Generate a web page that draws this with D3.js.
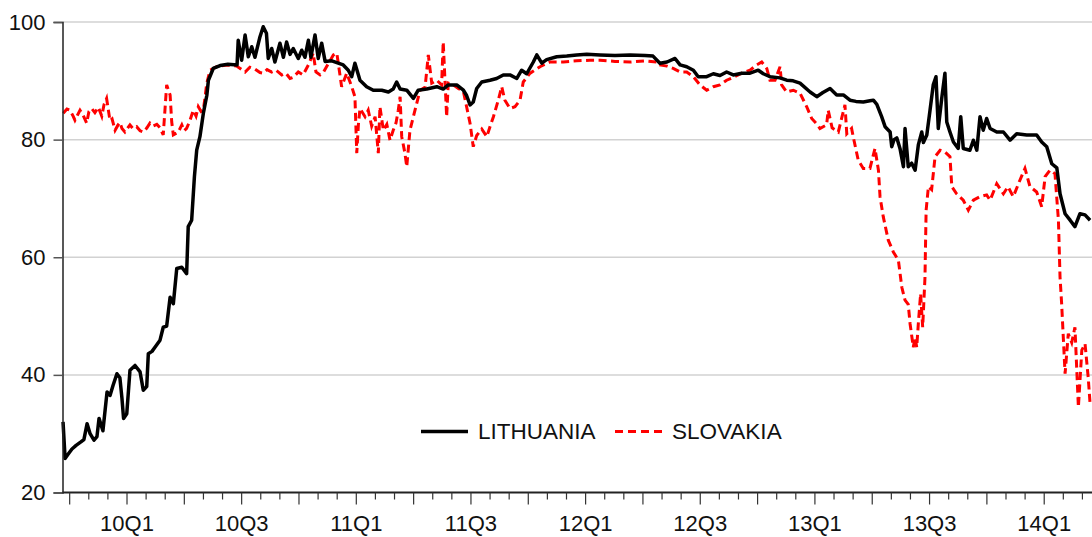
<!DOCTYPE html>
<html>
<head>
<meta charset="utf-8">
<script src="https://cdn.jsdelivr.net/npm/d3@7"></script>
<style>
  body { margin: 0; background: #fff; }
  svg { display: block; font-family: "Liberation Sans", Arial, sans-serif; }
</style>
</head>
<body>
<div id="chart"></div>
<script>
// DATA (time in decimal years)
const ltTime = [
  2009.721, 2009.730, 2009.743, 2009.760, 2009.778, 2009.799, 2009.812, 2009.826, 2009.839, 2009.856,
  2009.869, 2009.878, 2009.895, 2009.913, 2009.926, 2009.939, 2009.956, 2009.969, 2009.978, 2009.985,
  2009.999, 2010.013, 2010.035, 2010.057, 2010.071, 2010.086, 2010.093, 2010.109, 2010.122, 2010.144,
  2010.158, 2010.173, 2010.188, 2010.202, 2010.217, 2010.239, 2010.260, 2010.267, 2010.282, 2010.294,
  2010.304, 2010.318, 2010.333, 2010.348, 2010.355, 2010.376, 2010.406, 2010.440, 2010.480, 2010.485,
  2010.500, 2010.515, 2010.529, 2010.544, 2010.558, 2010.580, 2010.594, 2010.608, 2010.616, 2010.631,
  2010.645, 2010.667, 2010.682, 2010.696, 2010.711, 2010.725, 2010.747, 2010.762, 2010.776, 2010.791,
  2010.802, 2010.820, 2010.834, 2010.849, 2010.864, 2010.893, 2010.915, 2010.943, 2010.965, 2010.980,
  2010.994, 2011.016, 2011.045, 2011.074, 2011.111, 2011.140, 2011.161, 2011.176, 2011.191, 2011.220,
  2011.249, 2011.270, 2011.307, 2011.351, 2011.379, 2011.401, 2011.438, 2011.467, 2011.481, 2011.496,
  2011.510, 2011.525, 2011.547, 2011.583, 2011.612, 2011.641, 2011.670, 2011.700, 2011.721, 2011.743,
  2011.772, 2011.787, 2011.809, 2011.830, 2011.874, 2011.918, 2011.961, 2012.005, 2012.063, 2012.128,
  2012.194, 2012.259, 2012.294, 2012.324, 2012.355, 2012.390, 2012.412, 2012.441, 2012.470, 2012.491,
  2012.528, 2012.557, 2012.586, 2012.615, 2012.644, 2012.681, 2012.717, 2012.753, 2012.775, 2012.804,
  2012.848, 2012.877, 2012.905, 2012.935, 2012.979, 2013.008, 2013.035, 2013.066, 2013.095, 2013.124,
  2013.153, 2013.179, 2013.211, 2013.240, 2013.255, 2013.270, 2013.291, 2013.306, 2013.328, 2013.335,
  2013.345, 2013.357, 2013.371, 2013.386, 2013.393, 2013.407, 2013.422, 2013.437, 2013.451, 2013.466,
  2013.473, 2013.488, 2013.502, 2013.516, 2013.528, 2013.538, 2013.553, 2013.567, 2013.575, 2013.589,
  2013.604, 2013.625, 2013.636, 2013.647, 2013.676, 2013.691, 2013.706, 2013.720, 2013.734, 2013.749,
  2013.764, 2013.793, 2013.822, 2013.851, 2013.880, 2013.924, 2013.967, 2013.989, 2014.011, 2014.033,
  2014.055, 2014.069, 2014.091, 2014.113, 2014.134, 2014.156, 2014.178, 2014.200
];
const ltValue = [
  32.0, 25.8, 26.5, 27.4, 28.0, 28.6, 29.0, 31.7, 30.0, 28.9,
  29.5, 32.6, 30.5, 37.1, 36.5, 38.2, 40.2, 39.5, 36.0, 32.6,
  33.4, 40.8, 41.6, 40.5, 37.4, 38.0, 43.6, 44.0, 44.7, 45.9,
  48.1, 48.3, 53.2, 52.1, 58.1, 58.3, 57.2, 65.2, 66.3, 73.7,
  78.2, 80.5, 84.5, 87.5, 90.1, 92.1, 92.6, 92.8, 92.7, 96.9,
  93.5, 97.8, 94.1, 95.8, 94.0, 97.5, 99.2, 98.1, 93.8, 95.5,
  93.2, 96.4, 94.0, 96.6, 94.5, 95.5, 93.8, 95.2, 94.0, 96.9,
  94.0, 97.8, 93.8, 96.4, 93.3, 93.4, 93.1, 92.7, 91.8, 90.7,
  93.0, 90.1, 89.0, 88.4, 88.4, 88.1, 88.6, 89.8, 88.6, 88.4,
  87.0, 88.4, 88.6, 89.0, 88.6, 89.3, 89.3, 88.4, 87.5, 85.9,
  86.4, 88.7, 89.8, 90.1, 90.4, 91.0, 91.0, 90.4, 91.8, 91.2,
  93.2, 94.4, 93.0, 93.6, 94.1, 94.2, 94.4, 94.5, 94.4, 94.3,
  94.4, 94.3, 94.2, 93.0, 93.2, 93.8, 92.7, 92.4, 91.8, 90.7,
  90.7, 91.2, 90.9, 91.5, 91.0, 91.3, 91.3, 91.8, 91.2, 90.7,
  90.5, 90.1, 90.0, 89.6, 88.1, 87.3, 88.0, 88.7, 87.6, 87.6,
  86.7, 86.5, 86.4, 86.6, 86.7, 86.0, 83.9, 82.2, 81.3, 78.8,
  80.0, 80.3, 78.5, 75.4, 81.9, 75.4, 76.0, 74.8, 79.1, 81.3,
  79.5, 80.8, 85.0, 89.3, 90.7, 81.9, 87.0, 91.3, 83.0, 81.3,
  79.6, 78.5, 83.9, 78.5, 78.2, 79.9, 78.2, 83.9, 81.6, 83.6,
  81.9, 81.3, 81.3, 79.9, 81.0, 80.8, 80.8, 79.6, 78.8, 75.9,
  75.2, 70.8, 67.4, 66.3, 65.2, 67.4, 67.2, 66.3
];

const skTime = [
  2009.722, 2009.738, 2009.751, 2009.765, 2009.773, 2009.795, 2009.808, 2009.824, 2009.834, 2009.846,
  2009.860, 2009.875, 2009.890, 2009.900, 2009.911, 2009.926, 2009.935, 2009.948, 2009.961, 2009.969,
  2009.978, 2009.991, 2010.013, 2010.026, 2010.042, 2010.057, 2010.071, 2010.087, 2010.100, 2010.113,
  2010.130, 2010.144, 2010.158, 2010.173, 2010.188, 2010.195, 2010.202, 2010.224, 2010.239, 2010.249,
  2010.260, 2010.275, 2010.289, 2010.301, 2010.311, 2010.323, 2010.333, 2010.348, 2010.362, 2010.391,
  2010.435, 2010.478, 2010.515, 2010.536, 2010.558, 2010.580, 2010.594, 2010.611, 2010.631, 2010.650,
  2010.675, 2010.693, 2010.711, 2010.725, 2010.747, 2010.768, 2010.791, 2010.812, 2010.824, 2010.842,
  2010.856, 2010.872, 2010.900, 2010.915, 2010.925, 2010.936, 2010.958, 2010.980, 2010.994, 2011.002,
  2011.009, 2011.016, 2011.038, 2011.052, 2011.067, 2011.082, 2011.096, 2011.103, 2011.118, 2011.133,
  2011.147, 2011.161, 2011.173, 2011.183, 2011.191, 2011.198, 2011.212, 2011.220, 2011.234, 2011.256,
  2011.278, 2011.300, 2011.314, 2011.329, 2011.351, 2011.372, 2011.379, 2011.394, 2011.401, 2011.423,
  2011.445, 2011.467, 2011.481, 2011.496, 2011.510, 2011.525, 2011.547, 2011.569, 2011.583, 2011.598,
  2011.619, 2011.634, 2011.648, 2011.670, 2011.692, 2011.714, 2011.728, 2011.758, 2011.801, 2011.845,
  2011.903, 2011.961, 2012.019, 2012.063, 2012.128, 2012.194, 2012.259, 2012.310, 2012.324, 2012.355,
  2012.382, 2012.412, 2012.441, 2012.470, 2012.499, 2012.528, 2012.557, 2012.586, 2012.615, 2012.644,
  2012.681, 2012.717, 2012.746, 2012.768, 2012.790, 2012.804, 2012.826, 2012.848, 2012.855, 2012.877,
  2012.906, 2012.935, 2012.964, 2012.986, 2013.005, 2013.022, 2013.051, 2013.058, 2013.075, 2013.102,
  2013.131, 2013.139, 2013.160, 2013.167, 2013.189, 2013.211, 2013.240, 2013.262, 2013.277, 2013.284,
  2013.298, 2013.320, 2013.342, 2013.364, 2013.379, 2013.393, 2013.407, 2013.415, 2013.429, 2013.437,
  2013.444, 2013.451, 2013.461, 2013.470, 2013.480, 2013.485, 2013.495, 2013.509, 2013.524, 2013.546,
  2013.567, 2013.589, 2013.597, 2013.618, 2013.647, 2013.669, 2013.691, 2013.720, 2013.749, 2013.764,
  2013.793, 2013.822, 2013.842, 2013.865, 2013.894, 2013.916, 2013.938, 2013.967, 2013.989, 2014.004,
  2014.025, 2014.047, 2014.062, 2014.069, 2014.076, 2014.091, 2014.105, 2014.120, 2014.134, 2014.149,
  2014.164, 2014.178, 2014.192, 2014.200
];
const skValue = [
  84.5, 85.2, 85.0, 84.0, 83.3, 85.0, 84.2, 82.8, 84.8, 85.3,
  84.6, 85.5, 84.0, 86.0, 87.0, 83.2, 83.5, 81.6, 82.5, 82.9,
  81.9, 81.3, 82.5, 81.9, 82.2, 81.5, 81.3, 82.0, 82.8, 82.3,
  82.6, 82.0, 80.8, 89.3, 87.6, 83.0, 80.8, 81.3, 82.5, 81.5,
  81.9, 83.3, 85.0, 84.0, 85.6, 84.8, 85.0, 89.6, 91.8, 92.4,
  92.7, 92.5, 91.5, 92.3, 92.0, 91.4, 91.3, 91.9, 91.5, 91.8,
  91.0, 91.3, 90.4, 90.6, 91.5, 91.0, 92.7, 94.7, 91.5, 91.0,
  91.4, 92.5, 94.4, 94.7, 92.0, 89.0, 91.3, 89.0, 87.3, 77.7,
  82.5, 85.3, 83.9, 85.0, 82.3, 83.9, 77.7, 85.6, 81.6, 82.6,
  79.9, 81.6, 82.8, 85.0, 87.3, 80.5, 77.7, 75.4, 81.6, 85.0,
  88.4, 88.9, 94.4, 89.6, 90.1, 89.3, 96.6, 83.9, 89.6, 89.3,
  88.7, 88.2, 85.6, 82.8, 78.8, 80.7, 81.8, 80.5, 82.2, 83.9,
  86.7, 89.0, 86.7, 85.3, 85.6, 86.7, 89.8, 91.3, 92.4, 93.2,
  93.2, 93.4, 93.5, 93.5, 93.3, 93.2, 93.4, 93.2, 92.7, 92.5,
  92.1, 91.5, 91.5, 90.7, 89.3, 88.4, 89.0, 89.3, 90.1, 90.6,
  91.3, 91.8, 92.7, 93.2, 92.1, 90.1, 90.1, 92.4, 89.3, 88.1,
  88.4, 87.9, 85.6, 83.6, 82.8, 81.9, 82.5, 85.0, 82.0, 81.3,
  85.9, 81.0, 81.9, 80.5, 76.5, 75.1, 75.1, 78.5, 74.8, 70.3,
  66.9, 62.9, 60.9, 59.5, 54.9, 52.7, 52.0, 48.7, 44.7, 46.4,
  44.7, 48.7, 53.8, 48.1, 56.6, 68.0, 72.0, 71.5, 77.1, 78.2,
  77.9, 77.1, 72.0, 70.8, 69.7, 68.0, 69.7, 70.3, 70.6, 69.7,
  72.5, 70.8, 72.0, 70.3, 73.1, 75.1, 72.0, 71.1, 68.6, 73.7,
  74.8, 74.2, 66.3, 56.6, 52.1, 40.2, 47.0, 45.5, 48.1, 34.5,
  44.2, 45.3, 39.5, 35.1
];

const seriesNames = ["LITHUANIA", "SLOVAKIA"];
const yTicks = [20, 40, 60, 80, 100];
const xLabelTicks = [2010, 2010.5, 2011, 2011.5, 2012, 2012.5, 2013, 2013.5, 2014];
const xLabels = ["10Q1", "10Q3", "11Q1", "11Q3", "12Q1", "12Q3", "13Q1", "13Q3", "14Q1"];

// SIZES
const w = 1092;
const h = 537;
const plotLeft = 62.5;
const plotTop = 22;
const plotBottom = 492.5;

const svg = d3
  .select("#chart")
  .append("svg")
  .attr("width", w)
  .attr("height", h);

const x = d3.scaleLinear().domain([2009.7187, 2014.2084]).range([plotLeft, w]);
const y = d3.scaleLinear().domain([20, 100]).range([plotBottom, plotTop]);

// GRID
svg
  .append("g")
  .selectAll("line")
  .data(yTicks.filter((d) => d > 20))
  .enter()
  .append("line")
  .attr("x1", plotLeft)
  .attr("x2", w)
  .attr("y1", (d) => y(d))
  .attr("y2", (d) => y(d))
  .attr("stroke", "#d2d2d2")
  .attr("stroke-width", 1.5);

// LINES
const line = d3
  .line()
  .x((d) => x(d[0]))
  .y((d) => y(d[1]));

svg
  .append("path")
  .datum(d3.zip(skTime, skValue))
  .attr("d", line)
  .attr("fill", "none")
  .attr("stroke", "#ff0000")
  .attr("stroke-width", 3)
  .attr("stroke-dasharray", "8,4.5");

svg
  .append("path")
  .datum(d3.zip(ltTime, ltValue))
  .attr("d", line)
  .attr("fill", "none")
  .attr("stroke", "#000")
  .attr("stroke-width", 3.5)
  .attr("stroke-linejoin", "round");

// Y AXIS
const yAxis = d3.axisLeft(y).tickValues(yTicks).tickSize(9).tickPadding(8);
const gy = svg
  .append("g")
  .attr("transform", "translate(" + plotLeft + ",0)")
  .call(yAxis);
gy.select(".domain").attr("stroke", "#222").attr("stroke-width", 1.5);
gy.selectAll(".tick line").attr("stroke", "#555").attr("stroke-width", 1.5);
gy.selectAll("text")
  .attr("font-size", 22)
  .attr("fill", "#111")
  .attr("font-family", "Liberation Sans, Arial, sans-serif");

// X AXIS: monthly minor ticks, quarterly major ticks, labels every half year
const monthTicks = d3.range(2009.75, 2014.21, 1 / 12);
const gx = svg.append("g").attr("transform", "translate(0," + plotBottom + ")");
gx.append("line")
  .attr("x1", plotLeft)
  .attr("x2", w)
  .attr("stroke", "#222")
  .attr("stroke-width", 2);
gx.selectAll(".mtick")
  .data(monthTicks)
  .enter()
  .append("line")
  .attr("x1", (d) => x(d))
  .attr("x2", (d) => x(d))
  .attr("y1", 0)
  .attr("y2", (d, i) => (i % 3 === 0 ? 12 : 7))
  .attr("stroke", "#333")
  .attr("stroke-width", 1.2);
gx.selectAll(".xlabel")
  .data(xLabelTicks)
  .enter()
  .append("text")
  .attr("x", (d) => x(d))
  .attr("y", 38.5)
  .attr("text-anchor", "middle")
  .attr("font-size", 22)
  .attr("fill", "#111")
  .text((d, i) => xLabels[i]);

// LEGEND
const legend = svg.append("g").attr("transform", "translate(421,431.5)");
legend
  .append("line")
  .attr("x1", 0)
  .attr("x2", 47)
  .attr("stroke", "#000")
  .attr("stroke-width", 3.5);
legend
  .append("text")
  .attr("x", 57)
  .attr("y", 7)
  .attr("font-size", 22.5)
  .attr("fill", "#111")
  .text(seriesNames[0]);
legend
  .append("line")
  .attr("x1", 194)
  .attr("x2", 241)
  .attr("stroke", "#ff0000")
  .attr("stroke-width", 3)
  .attr("stroke-dasharray", "8,5");
legend
  .append("text")
  .attr("x", 251)
  .attr("y", 7)
  .attr("font-size", 22.5)
  .attr("fill", "#111")
  .text(seriesNames[1]);
</script>
</body>
</html>
